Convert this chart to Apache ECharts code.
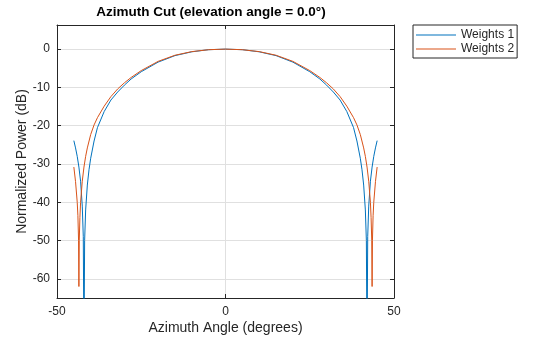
<!DOCTYPE html>
<html>
<head>
<meta charset="utf-8">
<script src="https://cdn.jsdelivr.net/npm/echarts@6/dist/echarts.min.js"></script>
<style>
  html, body { margin: 0; padding: 0; background: #ffffff; }
  #chart { width: 560px; height: 337px; }
</style>
</head>
<body>
<div id="chart"></div>
<script>
// Tick labels
const xTicks = [-50, 0, 50];
const yTicks = [0, -10, -20, -30, -40, -50, -60];

// Weights 1: azimuth angle (deg) and normalized power (dB)
const w1Angles = [-45, -44.5, -44, -43.5, -43, -42.5, -42.2, -42, -41.8, -41.5, -41, -40.5, -40, -39, -38, -36, -34, -32, -30, -28, -25, -20, -15, -10, -5, 0,
                  5, 10, 15, 20, 25, 28, 30, 32, 34, 36, 38, 39, 40, 40.5, 41, 41.5, 41.8, 42, 42.2, 42.5, 43, 43.5, 44, 44.5, 45];
const w1Power  = [-23.9, -25.8, -28.0, -30.8, -34.5, -41, -49, -80, -50, -42, -35.5, -31.5, -28.5, -24.0, -20.5, -16.3, -13.3, -11.2, -9.4, -7.8, -5.9, -3.4, -1.7, -0.7, -0.15, 0,
                  -0.15, -0.7, -1.7, -3.4, -5.9, -7.8, -9.4, -11.2, -13.3, -16.3, -20.5, -24.0, -28.5, -31.5, -35.5, -42, -50, -80, -49, -41, -34.5, -30.8, -28.0, -25.8, -23.9];

// Weights 2: azimuth angle (deg) and normalized power (dB)
const w2Angles = [-45, -44.5, -44, -43.8, -43.6, -43.5, -43.4, -43.2, -43, -42.5, -42, -41.5, -41, -40, -39, -38, -36, -34, -32, -30, -28, -25, -20, -15, -10, -5, 0,
                  5, 10, 15, 20, 25, 28, 30, 32, 34, 36, 38, 39, 40, 41, 41.5, 42, 42.5, 43, 43.2, 43.4, 43.5, 43.6, 43.8, 44, 44.5, 45];
const w2Power  = [-30.8, -34.6, -40, -43.5, -50, -62, -50, -44, -40, -34.5, -30.8, -28.0, -25.8, -22.3, -19.8, -17.9, -14.9, -12.4, -10.4, -8.8, -7.4, -5.6, -3.2, -1.6, -0.65, -0.15, 0,
                  -0.15, -0.65, -1.6, -3.2, -5.6, -7.4, -8.8, -10.4, -12.4, -14.9, -17.9, -19.8, -22.3, -25.8, -28.0, -30.8, -34.5, -40, -44, -50, -62, -50, -43.5, -40, -34.6, -30.8];

const seriesNames = ['Weights 1', 'Weights 2'];
const seriesColors = ['#0072BD', '#D95319'];

const axisColor = '#262626';
const gridColor = '#e0e0e0';
const fontFamily = '"Liberation Sans", Arial, Helvetica, sans-serif';

const pairs = (xs, ys) => xs.map((x, i) => [x, ys[i]]);

const chart = echarts.init(document.getElementById('chart'));

const baseX = {
  type: 'value', min: -50, max: 50, interval: 50,
  axisLine: { show: true, onZero: false, lineStyle: { color: axisColor, width: 1 } },
  axisTick: { show: true, inside: true, length: 4, lineStyle: { color: axisColor } },
  splitLine: { show: false }
};
const baseY = {
  type: 'value', min: -65, max: 6.3,
  axisLine: { show: true, onZero: false, lineStyle: { color: axisColor, width: 1 } },
  axisTick: { show: true, inside: true, length: 4, customValues: yTicks, lineStyle: { color: axisColor } },
  splitLine: { show: false }
};

chart.setOption({
  animation: false,
  backgroundColor: '#ffffff',
  textStyle: { fontFamily: fontFamily },
  grid: { left: 57, right: 166, top: 25, bottom: 39, containLabel: false, outerBoundsMode: 'none' },
  graphic: [{
    type: 'text', x: 211, y: 12,
    style: {
      text: 'Azimuth Cut (elevation angle = 0.0°)',
      font: 'bold 13.5px ' + fontFamily,
      fill: '#000000', textAlign: 'center', textVerticalAlign: 'middle'
    }
  }],
  legend: {
    orient: 'vertical', left: 413, top: 25,
    data: seriesNames.map(n => ({ name: n, icon: 'rect' })),
    itemWidth: 40, itemHeight: 1.2, itemGap: 0,
    padding: [3, 3, 2, 3],
    borderColor: axisColor, borderWidth: 1, borderRadius: 0,
    backgroundColor: '#ffffff',
    textStyle: { fontSize: 12, color: axisColor, fontFamily: fontFamily, lineHeight: 14, height: 14 }
  },
  xAxis: [
    Object.assign({}, baseX, {
      position: 'bottom',
      axisLabel: { show: true, fontSize: 12, color: axisColor, margin: 8, customValues: xTicks },
      splitLine: { show: true, lineStyle: { color: gridColor, width: 1 } },
      name: 'Azimuth Angle (degrees)', nameLocation: 'middle', nameGap: 23, nameMoveOverlap: false,
      nameTextStyle: { fontSize: 14, color: axisColor, fontFamily: fontFamily }
    }),
    Object.assign({}, baseX, { position: 'top', axisLabel: { show: false } })
  ],
  yAxis: [
    Object.assign({}, baseY, {
      position: 'left',
      axisLabel: { show: true, fontSize: 12, color: axisColor, margin: 7, customValues: yTicks },
      splitLine: { show: true, lineStyle: { color: gridColor, width: 1 } },
      name: 'Normalized Power (dB)', nameLocation: 'middle', nameGap: 28, nameMoveOverlap: false,
      nameTextStyle: { fontSize: 14, color: axisColor, fontFamily: fontFamily }
    }),
    Object.assign({}, baseY, { position: 'right', axisLabel: { show: false } })
  ],
  series: [
    {
      name: seriesNames[0], type: 'line', symbol: 'none', clip: true,
      data: pairs(w1Angles, w1Power),
      lineStyle: { color: seriesColors[0], width: 1 }, itemStyle: { color: seriesColors[0] },
      z: 3
    },
    {
      name: seriesNames[1], type: 'line', symbol: 'none', clip: true,
      data: pairs(w2Angles, w2Power),
      lineStyle: { color: seriesColors[1], width: 1 }, itemStyle: { color: seriesColors[1] },
      z: 4
    }
  ]
});
</script>
</body>
</html>
